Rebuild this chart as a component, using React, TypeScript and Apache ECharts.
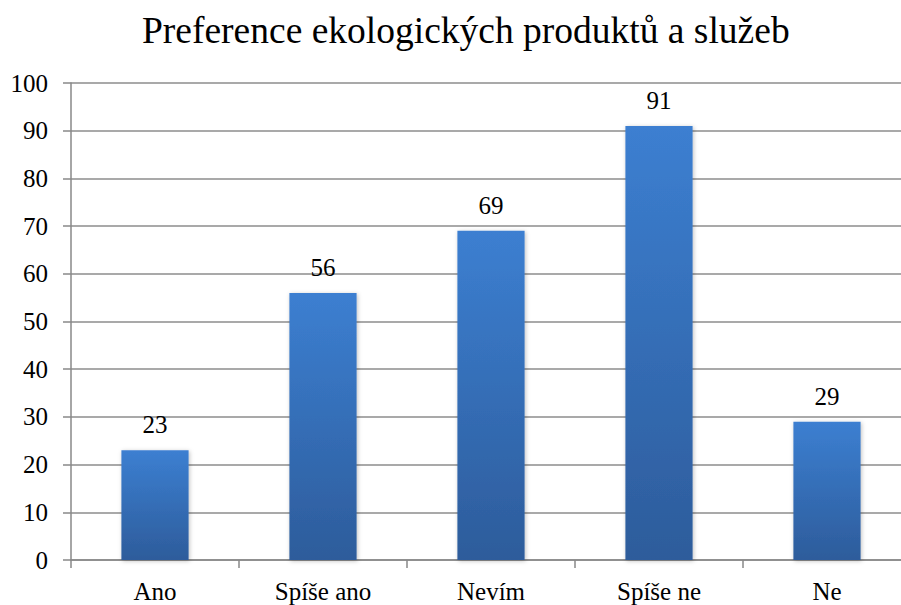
import React, { useEffect, useRef } from "react";
import * as echarts from "echarts";

const categories = ["Ano", "Spíše ano", "Nevím", "Spíše ne", "Ne"];
const values = [23, 56, 69, 91, 29];
const titleText = "Preference ekologických produktů a služeb";

export default function App() {
  const ref = useRef<HTMLDivElement>(null);
  useEffect(() => {
    if (!ref.current) return;
    const chart = echarts.init(ref.current, undefined, { renderer: "svg" });
    const font = "'Liberation Serif', 'Times New Roman', serif";
    const txt = (size: number) => ({
      fontFamily: font,
      fontSize: size,
      fontWeight: "normal",
      color: "#000",
    });
    chart.setOption({
      animation: false,
      backgroundColor: "#ffffff",
      title: {
        text: titleText,
        left: 142,
        top: 11,
        padding: 0,
        textStyle: txt(37.5),
      },
      grid: { left: 71, top: 83, width: 840, height: 477, outerBoundsMode: "none" },
      xAxis: {
        type: "category",
        data: categories,
        axisLine: { lineStyle: { color: "#888", width: 1.5 } },
        axisTick: { show: true, length: 8, alignWithLabel: false, lineStyle: { color: "#888", width: 1.5 } },
        axisLabel: { ...txt(25), margin: 19 },
      },
      yAxis: {
        type: "value",
        min: 0,
        max: 100,
        interval: 10,
        axisLine: { show: true, lineStyle: { color: "#888", width: 1.5 } },
        axisTick: { show: true, length: 8, lineStyle: { color: "#888", width: 1.5 } },
        axisLabel: { ...txt(25), margin: 23 },
        splitLine: { lineStyle: { color: "#8c8c8c", width: 1.5 } },
      },
      series: [
        {
          type: "bar",
          data: values,
          barWidth: "40%",
          itemStyle: {
            color: new echarts.graphic.LinearGradient(0, 0, 0, 1, [
              { offset: 0, color: "#3c7fd1" },
              { offset: 1, color: "#2d5c9b" },
            ]),
            shadowColor: "rgba(0,0,0,0.25)",
            shadowBlur: 4,
            shadowOffsetX: 1,
            shadowOffsetY: 1,
          },
          label: {
            show: true,
            position: "top",
            distance: 13,
            ...txt(25),
          },
        },
      ],
    });
    return () => chart.dispose();
  }, []);
  return <div ref={ref} style={{ width: 901, height: 605, position: "absolute", left: 0, top: 0 }} />;
}
